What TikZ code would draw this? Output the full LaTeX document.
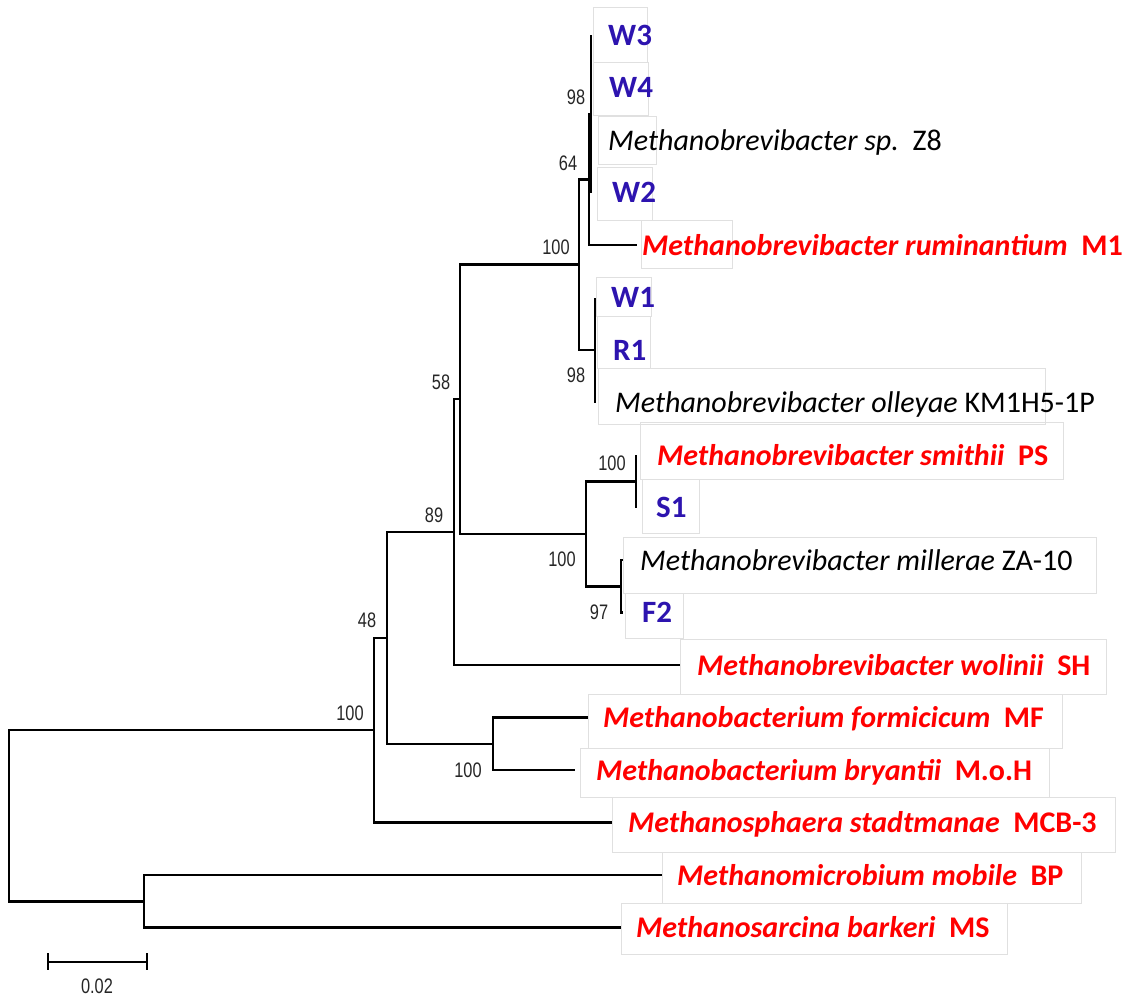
\documentclass[tikz,border=0pt]{standalone}
\usepackage{fontspec}
\setmainfont{Carlito}
\newfontfamily\bootfont[FakeStretch=0.78]{Liberation Sans}
\definecolor{isolateblue}{RGB}{45,20,175}

\tikzset{
  branch/.style={line width=2.5pt, line join=miter},
  boot/.style={font=\bootfont\fontsize{21}{21}\selectfont, text=black!85, inner sep=0pt},
  taxon/.style={anchor=base west, inner sep=0pt, yshift=-10pt, font=\fontsize{30}{36}\selectfont},
  isolate/.style={taxon, text=isolateblue, font=\fontsize{31}{36}\selectfont\bfseries},
  typestrain/.style={taxon, text=red, font=\fontsize{30}{36}\selectfont\bfseries},
  labelbox/.style={draw=black!12, line width=1pt}
}

\begin{document}
\begin{tikzpicture}[x=1pt, y=-1pt]
\useasboundingbox (0,0) rectangle (1131,997);

% faint frames behind the names
\foreach \xa/\ya/\xb/\yb in {593/7/647/62, 593/62/648/115, 598/116/656/164, 597/167/652/220,
    641/220/732/268, 596/277/651/316, 597/316/650/368, 598/368/1045/424, 640/422/1063/479,
    642/479/699/533, 623/537/1096/593, 625/593/683/638, 680/639/1106/694, 588/694/1062/748,
    580/748/1049/797, 612/797/1115/852, 662/852/1081/903, 621/903/1007/954}
  \draw[labelbox] (\xa,\ya) rectangle (\xb,\yb);

% inner nodes
\coordinate (root) at (9,815.7);
\coordinate (nM) at (144,901.25);
\coordinate (nL) at (374,730.2);
\coordinate (nK) at (387,637.9);
\coordinate (nJ) at (493,743.75);
\coordinate (nI) at (454,532.1);
\coordinate (nH) at (460,399.2);
\coordinate (nG) at (586,533.75);
\coordinate (nF) at (621,586.25);
\coordinate (nE) at (636,481.25);
\coordinate (nD) at (579,264.7);
\coordinate (nC) at (595,350);
\coordinate (nB) at (589,179.4);
\coordinate (nA) at (591,113.75);

% tips
\coordinate (lW3) at (591,35);
\coordinate (lW4) at (591,87.5);
\coordinate (lZ8) at (591,140);
\coordinate (lW2) at (591,192.5);
\coordinate (lrum) at (637,245);
\coordinate (lW1) at (595,297.5);
\coordinate (lR1) at (595,350);
\coordinate (loll) at (595,402.5);
\coordinate (lsmi) at (636,455);
\coordinate (lS1) at (636,507.5);
\coordinate (lmil) at (623,560);
\coordinate (lF2) at (623,612.5);
\coordinate (lwol) at (680,665);
\coordinate (lfor) at (588,717.5);
\coordinate (lbry) at (575,770);
\coordinate (lsta) at (612,822.5);
\coordinate (lmob) at (662,875);
\coordinate (lbar) at (621,927.5);

\foreach \p/\c in {root/nL, root/nM, nM/lmob, nM/lbar, nL/nK, nL/lsta, nK/nI, nK/nJ,
    nJ/lfor, nJ/lbry, nI/nH, nI/lwol, nH/nD, nH/nG, nG/nE, nG/nF, nE/lsmi, nE/lS1,
    nF/lmil, nF/lF2, nD/nB, nD/nC, nC/lW1, nC/lR1, nC/loll, nB/nA, nB/lrum,
    nA/lW3, nA/lW4, nA/lZ8, nA/lW2}
  \draw[branch] (\p) |- (\c);

% names
\node[isolate] (tW3) at (608,35) {W3};
\node[isolate] (tW4) at (609,87.5) {W4};
\node[taxon] (tZ8) at (608,140) {\textit{Methanobrevibacter sp.}\ \ Z8};
\node[isolate] (tW2) at (612,192.5) {W2};
\node[typestrain] (trum) at (642,245) {\textit{Methanobrevibacter ruminantium}\ \ M1};
\node[isolate] (tW1) at (611,297.5) {W1};
\node[isolate] (tR1) at (613,350) {R1};
\node[taxon] (toll) at (615,402.5) {\textit{Methanobrevibacter olleyae}\ KM1H5-1P};
\node[typestrain] (tsmi) at (657,455) {\textit{Methanobrevibacter smithii}\ \ PS};
\node[isolate] (tS1) at (656,507.5) {S1};
\node[taxon] (tmil) at (640,560) {\textit{Methanobrevibacter millerae}\ ZA-10};
\node[isolate] (tF2) at (642,612.5) {F2};
\node[typestrain] (twol) at (697,665) {\textit{Methanobrevibacter wolinii}\ \ SH};
\node[typestrain] (tfor) at (603,717.5) {\textit{Methanobacterium formicicum}\ \ MF};
\node[typestrain] (tbry) at (596,770) {\textit{Methanobacterium bryantii}\ \ M.o.H};
\node[typestrain] (tsta) at (628,822.5) {\textit{Methanosphaera stadtmanae}\ \ MCB-3};
\node[typestrain] (tmob) at (677,875) {\textit{Methanomicrobium mobile}\ \ BP};
\node[typestrain] (tbar) at (636,927.5) {\textit{Methanosarcina barkeri}\ \ MS};

% bootstrap values
\node[boot] (bA) at (576,97) {98};
\node[boot] (bB) at (568,163) {64};
\node[boot] (bD) at (556,247) {100};
\node[boot] (bC) at (576,375) {98};
\node[boot] (bH) at (441,382) {58};
\node[boot] (bE) at (612,463) {100};
\node[boot] (bG) at (562,559) {100};
\node[boot] (bF) at (599,612) {97};
\node[boot] (bI) at (434,515) {89};
\node[boot] (bK) at (367,620) {48};
\node[boot] (bL) at (350,713) {100};
\node[boot] (bJ) at (468,770) {100};

% scale
\coordinate (sbL) at (48,962);
\coordinate (sbR) at (147,962);
\draw[branch] (sbL) -- (sbR);
\draw[branch] ([yshift=9pt]sbL) -- ([yshift=-8pt]sbL);
\draw[branch] ([yshift=9pt]sbR) -- ([yshift=-8pt]sbR);
\node[boot] (sbT) at (97,986) {0.02};
\end{tikzpicture}
\end{document}
